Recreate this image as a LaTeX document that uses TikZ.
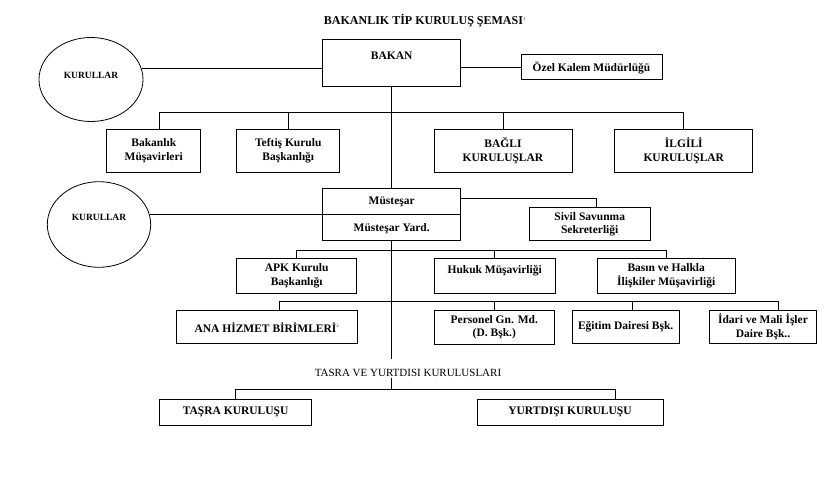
\documentclass[tikz,border=0pt]{standalone}
\usepackage{fontspec}
\setmainfont{Liberation Serif}
\newcommand{\supnote}[1]{\textsuperscript{\color{gray}\fontsize{5}{6}\selectfont #1}}
\tikzset{
  box/.style={draw,line width=1pt,align=center,inner sep=0pt},
  kurul/.style={draw,ellipse,line width=0.8pt,inner sep=0pt},
  every node/.append style={font=\bfseries\fontsize{11.5}{13.3}\selectfont}
}
\usetikzlibrary{shapes.geometric}
\begin{document}
\begin{tikzpicture}[x=1pt,y=-1pt]
	\useasboundingbox (0,0) rectangle (839,494);
	% title
	\node[font=\bfseries\fontsize{12}{14}\selectfont] (title) at (425,21) {BAKANLIK TİP KURULUŞ ŞEMASI\supnote{1}};
	% top level
	\node[box,minimum width=138pt,text height=19.7pt,text depth=27pt] (bakan) at (391.7,63.35) {BAKAN};
	\node[box,minimum width=141pt,minimum height=25pt] (ozel) at (591.5,67.5) {Özel Kalem Müdürlüğü};
	\node[kurul,minimum width=104pt,minimum height=84pt] (kurul1) at (91,79.5) {};
	\node[font=\bfseries\fontsize{9.5}{11}\selectfont] (kurul1lbl) at (91,75) {KURULLAR};
	% second row
	\node[box,minimum width=94.3pt,minimum height=42.7pt] (bmus) at (153.8,150.7) {Bakanlık\\Müşavirleri};
	\node[box,minimum width=103.3pt,minimum height=42.7pt] (teftis) at (288.3,150.7) {Teftiş Kurulu\\Başkanlığı};
	\node[box,minimum width=138pt,minimum height=42.7pt] (bagli) at (503,150.7) {BAĞLI\\KURULUŞLAR};
	\node[box,minimum width=137.7pt,minimum height=42.7pt] (ilgili) at (683.8,150.7) {İLGİLİ\\KURULUŞLAR};
	% mustesar
	\node[box,minimum width=138pt,minimum height=52pt] (must) at (391.7,215) {};
	\node (mustlbl) at (391.7,201.7) {Müsteşar};
	\node (mustyrd) at (391.7,228.3) {Müsteşar Yard.};
	\node[kurul,minimum width=103.4pt,minimum height=85.6pt] (kurul2) at (99,224.5) {};
	\node[font=\bfseries\fontsize{9.5}{11}\selectfont] (kurul2lbl) at (99,217) {KURULLAR};
	\node[box,minimum width=120.7pt,minimum height=33.3pt] (sivil) at (589.7,224.3) {Sivil Savunma\\Sekreterliği};
	% third row
	\node[box,minimum width=120pt,minimum height=35pt] (apk) at (296.7,275.8) {APK Kurulu\\Başkanlığı};
	\node[box,minimum width=120.7pt,text height=15.7pt,text depth=19.3pt] (hukuk) at (494.7,275.8) {Hukuk Müşavirliği};
	\node[box,minimum width=137.7pt,minimum height=35pt] (basin) at (666.2,275.8) {Basın ve Halkla\\İlişkiler Müşavirliği};
	% fourth row
	\node[box,minimum width=180.6pt,minimum height=33.3pt] (ana) at (267,327.3) {ANA HİZMET BİRİMLERİ\supnote{2}};
	\node[box,minimum width=120pt,minimum height=34pt] (personel) at (494.3,327.2) {Personel Gn. Md.\\(D. Bşk.)};
	\node[box,minimum width=106.7pt,minimum height=33.3pt] (egitim) at (625.7,326.7) {Eğitim Dairesi Bşk.};
	\node[box,minimum width=107.3pt,minimum height=33.3pt] (idari) at (763,326.7) {İdari ve Mali İşler\\Daire Bşk..};
	% tasra / yurtdisi
	\node[font=\fontsize{11}{13}\selectfont,inner sep=1pt] (tasrayurt) at (408,372.8) {TASRA VE YURTDISI KURULUSLARI};
	\node[box,minimum width=152.6pt,minimum height=26.3pt] (tasra) at (235.6,412.2) {TAŞRA KURULUŞU};
	\node[box,minimum width=186pt,minimum height=26.3pt] (yurt) at (570,412.2) {YURTDIŞI KURULUŞU};
	% buses
	\coordinate (bus1) at (391.7,112.5);
	\coordinate (bus3) at (391.7,250.3);
	\coordinate (bus4) at (391.7,301.7);
	\coordinate (spineend) at (391.7,359.3);
	\coordinate (busT) at (391.7,389.6);
	% connectors
	\draw[line width=1pt] (bakan.south) -- (must.north);
	\draw[line width=1pt] (must.south) -- (spineend);
	\draw[line width=1pt] (must.west) -- (must.east);
	\draw[line width=1pt] (kurul1.12) -- (kurul1.12 -| bakan.west);
	\draw[line width=1pt] (ozel.west) -- (ozel.west -| bakan.east);
	\draw[line width=1pt] (kurul2.11) -- (kurul2.11 -| must.west);
	\draw[line width=1pt] ([xshift=5.5pt]bmus.north) |- (bus1) -| (ilgili.north);
	\draw[line width=1pt] (teftis.north) -- (teftis.north |- bus1);
	\draw[line width=1pt] (bagli.north) -- (bagli.north |- bus1);
	\draw[line width=1pt] ([yshift=16.7pt]must.east) -| ([xshift=7pt]sivil.north);
	\draw[line width=1pt] (apk.north) |- (bus3) -| (basin.north);
	\draw[line width=1pt] (hukuk.north) -- (hukuk.north |- bus3);
	\draw[line width=1pt] ([xshift=12.3pt]ana.north) |- (bus4) -| ([xshift=15pt]idari.north);
	\draw[line width=1pt] (personel.north) -- (personel.north |- bus4);
	\draw[line width=1pt] ([xshift=7pt]egitim.north) -- ([xshift=7pt]egitim.north |- bus4);
	\draw[line width=1pt] (tasrayurt.south -| busT) -- (busT);
	\draw[line width=1pt] (tasra.north) |- (busT) -| ([xshift=45pt]yurt.north);
\end{tikzpicture}
\end{document}
